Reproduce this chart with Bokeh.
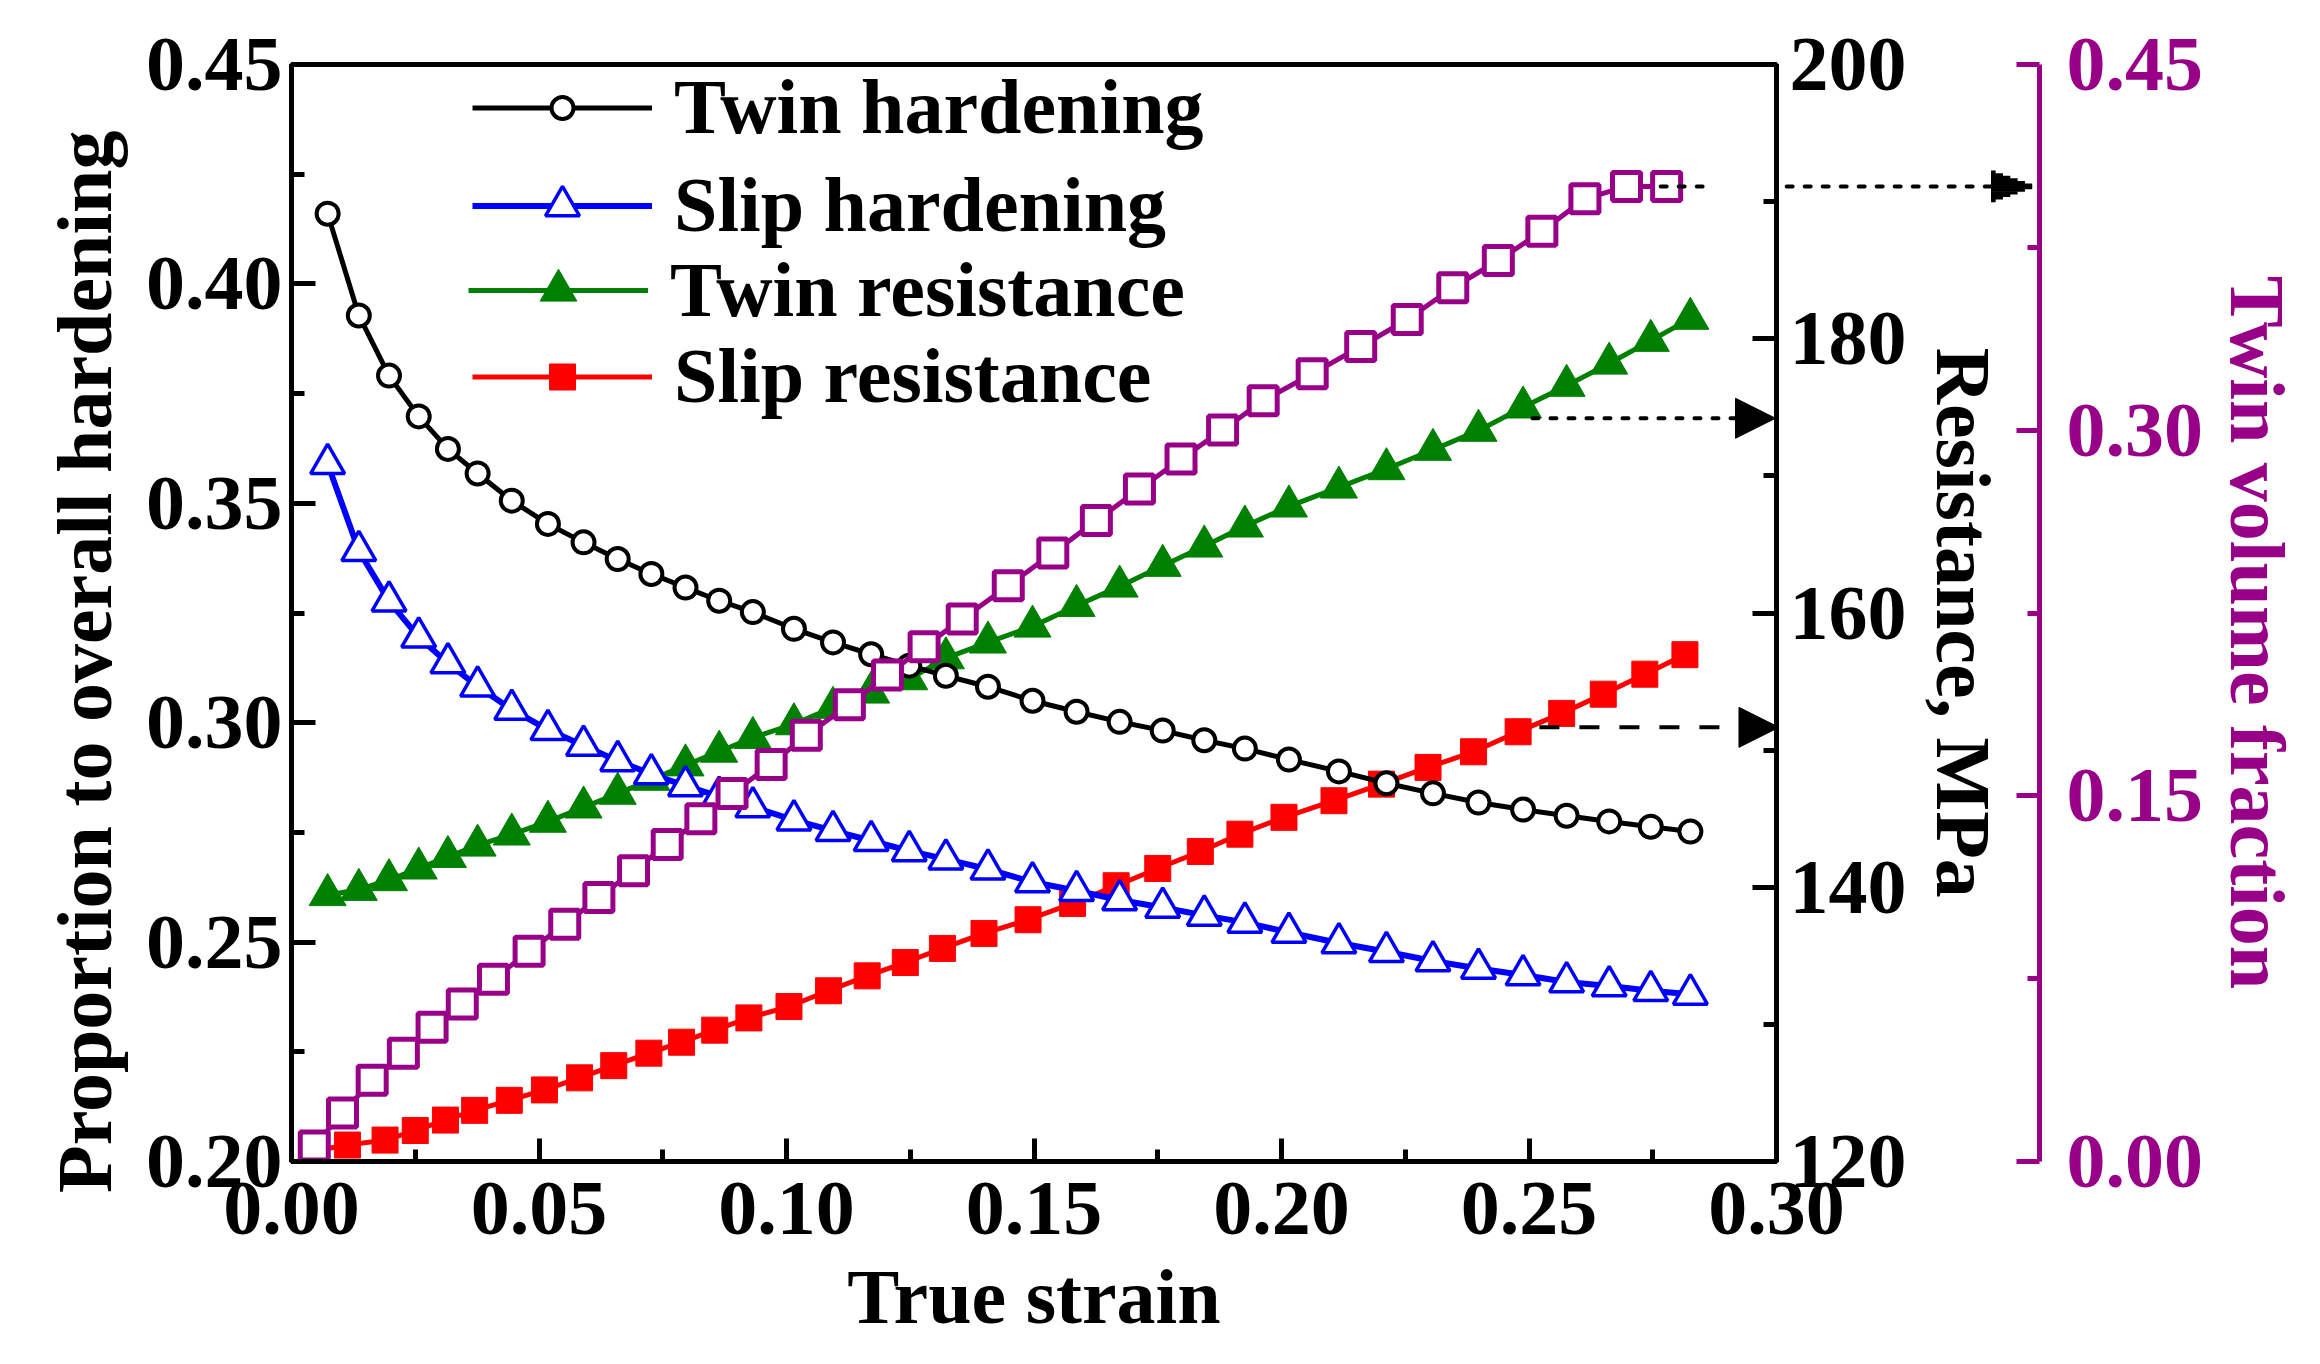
from bokeh.plotting import figure
from bokeh.models import (Range1d, LinearAxis, FixedTicker, NumeralTickFormatter,
                          Legend, LegendItem, Arrow, NormalHead)
from bokeh.embed import file_html
from bokeh.resources import INLINE

# ---------------- data ----------------
strain = [0.0073, 0.0136, 0.0197, 0.0257, 0.0316, 0.0376, 0.0445, 0.0518, 0.0590,
          0.0659, 0.0727, 0.0796, 0.0864, 0.0932, 0.1015, 0.1094, 0.1171, 0.1248,
          0.1322, 0.1407, 0.1497, 0.1586, 0.1673, 0.1760, 0.1844, 0.1926, 0.2015,
          0.2116, 0.2212, 0.2306, 0.2398, 0.2488, 0.2576, 0.2662, 0.2746, 0.2826]
twin_hardening = [0.4160, 0.3928, 0.3791, 0.3698, 0.3624, 0.3568, 0.3506, 0.3453, 0.3411,
                  0.3373, 0.3339, 0.3308, 0.3278, 0.3252, 0.3214, 0.3183, 0.3156, 0.3130,
                  0.3107, 0.3082, 0.3050, 0.3025, 0.3002, 0.2982, 0.2960, 0.2941, 0.2916,
                  0.2889, 0.2862, 0.2839, 0.2818, 0.2802, 0.2788, 0.2775, 0.2763, 0.2752]
slip_hardening = [0.3590, 0.3392, 0.3277, 0.3195, 0.3136, 0.3083, 0.3030, 0.2984, 0.2948,
                  0.2913, 0.2883, 0.2856, 0.2832, 0.2808, 0.2778, 0.2754, 0.2731, 0.2708,
                  0.2689, 0.2666, 0.2637, 0.2617, 0.2596, 0.2579, 0.2561, 0.2545, 0.2522,
                  0.2498, 0.2478, 0.2457, 0.2440, 0.2425, 0.2409, 0.2400, 0.2389, 0.2381]
twin_resistance = [139.44, 139.82, 140.53, 141.38, 142.22, 143.05, 143.86, 144.79, 145.83,
                   146.83, 147.85, 148.90, 149.90, 150.90, 151.90, 153.10, 154.21, 155.18,
                   156.71, 157.86, 159.02, 160.53, 161.94, 163.45, 164.86, 166.32, 167.78,
                   169.16, 170.50, 171.91, 173.30, 175.00, 176.58, 178.20, 179.86, 181.47]
strain_slip_res = [0.0050, 0.0113, 0.0189, 0.0250, 0.0311, 0.0370, 0.0440, 0.0511, 0.0582,
                   0.0651, 0.0722, 0.0788, 0.0855, 0.0924, 0.1005, 0.1085, 0.1163, 0.1240,
                   0.1315, 0.1399, 0.1488, 0.1578, 0.1666, 0.1750, 0.1836, 0.1916, 0.2005,
                   0.2106, 0.2202, 0.2296, 0.2388, 0.2478, 0.2566, 0.2650, 0.2734, 0.2815]
slip_resistance = [120.80, 121.20, 121.56, 122.26, 123.02, 123.73, 124.46, 125.22, 126.10,
                   126.99, 127.90, 128.70, 129.58, 130.47, 131.30, 132.45, 133.54, 134.51,
                   135.54, 136.63, 137.63, 138.82, 140.11, 141.37, 142.61, 143.87, 145.10,
                   146.31, 147.52, 148.74, 149.88, 151.34, 152.68, 154.08, 155.54, 156.96]
strain_tvf = [0.0046, 0.0103, 0.0163, 0.0226, 0.0284, 0.0345, 0.0408, 0.0480, 0.0552,
              0.0621, 0.0691, 0.0759, 0.0827, 0.0890, 0.0969, 0.1040, 0.1127, 0.1204,
              0.1278, 0.1355, 0.1448, 0.1538, 0.1626, 0.1713, 0.1797, 0.1881, 0.1963,
              0.2062, 0.2160, 0.2254, 0.2346, 0.2438, 0.2526, 0.2613, 0.2697, 0.2778]
twin_volume_fraction = [0.0064, 0.0199, 0.0333, 0.0444, 0.0551, 0.0646, 0.0748, 0.0862, 0.0973,
                        0.1083, 0.1193, 0.1300, 0.1406, 0.1510, 0.1629, 0.1749, 0.1874, 0.1996,
                        0.2112, 0.2225, 0.2362, 0.2496, 0.2629, 0.2759, 0.2882, 0.3001, 0.3121,
                        0.3231, 0.3343, 0.3454, 0.3584, 0.3696, 0.3816, 0.3949, 0.4000, 0.4000]

x_ticks = [0.00, 0.05, 0.10, 0.15, 0.20, 0.25, 0.30]
x_minor = [0.025, 0.075, 0.125, 0.175, 0.225, 0.275]
left_ticks = [0.20, 0.25, 0.30, 0.35, 0.40, 0.45]
left_minor = [0.225, 0.275, 0.325, 0.375, 0.425]
res_ticks = [120, 140, 160, 180, 200]
res_minor = [130, 150, 170, 190]
tvf_ticks = [0.00, 0.15, 0.30, 0.45]
tvf_minor = [0.075, 0.225, 0.375]

# arrows: (x_start, x_end, y)
arrow_tvf = (0.2766, 0.3522, 0.4000)
arrow_twin_res = (0.2507, 0.2998, 174.2)
arrow_slip_res = (0.2521, 0.3005, 151.66)

# ---------------- style ----------------
FONT = "Liberation Serif"
FS = "78px"
PURPLE = "#990088"
NB = "\u00a0"
W, H = 2304, 1348
BL, BR, BT, BB = 291, 524, 64, 187

p = figure(width=W, height=H, x_range=Range1d(0, 0.30), y_range=Range1d(0.20, 0.45),
           output_backend="svg", toolbar_location=None,
           min_border_left=BL, min_border_right=BR, min_border_top=BT, min_border_bottom=BB)
p.extra_y_ranges = {"res": Range1d(120, 200), "tvf": Range1d(0, 0.45)}
p.xgrid.visible = False
p.ygrid.visible = False
p.outline_line_color = "black"
p.outline_line_width = 5
p.background_fill_color = "white"
p.border_fill_color = "white"


def style_axis(ax, color="black", tick_in=24, minor_in=13, standoff=9, label_standoff=20):
    ax.axis_line_color = color
    ax.axis_line_width = 5
    ax.major_tick_line_color = color
    ax.minor_tick_line_color = color
    ax.major_tick_line_width = 5
    ax.minor_tick_line_width = 5
    ax.major_tick_in = tick_in
    ax.major_tick_out = 0
    ax.minor_tick_in = minor_in
    ax.minor_tick_out = 0
    ax.major_label_text_font = FONT
    ax.major_label_text_font_style = "bold"
    ax.major_label_text_font_size = FS
    ax.major_label_text_color = color
    ax.major_label_standoff = standoff
    ax.axis_label_text_font = FONT
    ax.axis_label_text_font_style = "bold"
    ax.axis_label_text_font_size = FS
    ax.axis_label_text_color = color
    ax.axis_label_standoff = label_standoff


xa = p.xaxis[0]
xa.ticker = FixedTicker(ticks=x_ticks, minor_ticks=x_minor)
xa.formatter = NumeralTickFormatter(format="0.00")
xa.axis_label = "True strain"
style_axis(xa, tick_in=23, minor_in=12, standoff=21, label_standoff=16)

ya = p.yaxis[0]
ya.ticker = FixedTicker(ticks=left_ticks, minor_ticks=left_minor)
ya.formatter = NumeralTickFormatter(format="0.00")
ya.axis_label = "Proportion to overall hardening" + NB * 5
style_axis(ya, standoff=9, label_standoff=15)

ax_res = LinearAxis(y_range_name="res", axis_label=NB + "Resistance, MPa",
                    ticker=FixedTicker(ticks=res_ticks, minor_ticks=res_minor))
style_axis(ax_res, standoff=13, label_standoff=10)
p.add_layout(ax_res, "right")

spacer = LinearAxis(y_range_name="res", ticker=FixedTicker(ticks=[], minor_ticks=[]),
                    axis_line_color=None, major_tick_line_color=None, minor_tick_line_color=None,
                    major_tick_out=0, major_tick_in=0, minor_tick_out=0, major_label_standoff=0,
                    axis_label=NB, axis_label_standoff=25, axis_label_text_font_size="2px",
                    axis_label_text_color="white")
p.add_layout(spacer, "right")

ax_tvf = LinearAxis(y_range_name="tvf", axis_label=NB * 2 + "Twin volume fraction",
                    ticker=FixedTicker(ticks=tvf_ticks, minor_ticks=tvf_minor),
                    formatter=NumeralTickFormatter(format="0.00"))
style_axis(ax_tvf, color=PURPLE, tick_in=23, minor_in=12, standoff=27, label_standoff=8)
p.add_layout(ax_tvf, "right")

# ---------------- series (draw order: red, green, black, blue, purple) ----------------
l_sr = p.line(strain_slip_res, slip_resistance, y_range_name="res", line_color="red", line_width=5)
s_sr = p.scatter(strain_slip_res, slip_resistance, y_range_name="res", marker="square", size=26,
                 fill_color="red", line_color="red", line_width=1)
l_tr = p.line(strain, twin_resistance, y_range_name="res", line_color="green", line_width=5)
s_tr = p.scatter(strain, twin_resistance, y_range_name="res", marker="triangle", size=37,
                 fill_color="green", line_color="green", line_width=1)
l_th = p.line(strain, twin_hardening, line_color="black", line_width=5)
s_th = p.scatter(strain, twin_hardening, marker="circle", size=22, fill_color="white",
                 line_color="black", line_width=4)
l_sh = p.line(strain, slip_hardening, line_color="blue", line_width=6)
s_sh = p.scatter(strain, slip_hardening, marker="triangle", size=34, fill_color="white",
                 line_color="blue", line_width=3.5)
l_tv = p.line(strain_tvf, twin_volume_fraction, y_range_name="tvf", line_color=PURPLE, line_width=5)
s_tv = p.scatter(strain_tvf, twin_volume_fraction, y_range_name="tvf", marker="square", size=28,
                 fill_color="white", line_color=PURPLE, line_width=5)

# ---------------- arrows ----------------
p.add_layout(Arrow(x_start=arrow_twin_res[0], y_start=arrow_twin_res[2], x_end=arrow_twin_res[1],
                   y_end=arrow_twin_res[2], y_range_name="res", line_color="black", line_width=4,
                   line_dash="6 12", line_cap="round",
                   end=NormalHead(size=40, fill_color="black", line_color="black", line_width=1)))
p.add_layout(Arrow(x_start=arrow_slip_res[0], y_start=arrow_slip_res[2], x_end=arrow_slip_res[1],
                   y_end=arrow_slip_res[2], y_range_name="res", line_color="black", line_width=4,
                   line_dash="20 20", line_cap="butt",
                   end=NormalHead(size=40, fill_color="black", line_color="black", line_width=1)))
# arrow to the outer (purple) axis, which lies outside the plot frame:
# the shaft is kept visible up to the axis by a long transparent head ...
p.add_layout(Arrow(x_start=arrow_tvf[0], y_start=arrow_tvf[2], x_end=arrow_tvf[1],
                   y_end=arrow_tvf[2], y_range_name="tvf", line_color="black", line_width=4,
                   line_dash="6 12", line_cap="round",
                   end=NormalHead(size=330, fill_alpha=0, line_alpha=0)))
# ... and its solid head is built from thin strokes that start at the head's base and
# get shorter away from the centre line, so that only the centre one reaches the tip
px_per_x = (W - BL - BR) / 0.30
px_per_tvf = (H - BT - BB) / 0.45
HEAD_LEN, HEAD_WID, NSTRIP = 44.0, 31.0, 12
strip_h = HEAD_WID / NSTRIP
x_base = arrow_tvf[1] - HEAD_LEN / px_per_x
for k in range(NSTRIP):
    off = -HEAD_WID / 2 + strip_h * (k + 0.5)                 # px from the shaft centre line
    length = HEAD_LEN * (1 - abs(off) / (HEAD_WID / 2)) + 1    # px
    yk = arrow_tvf[2] + off / px_per_tvf
    p.add_layout(Arrow(x_start=x_base, y_start=yk, x_end=x_base + length / px_per_x,
                       y_end=yk, y_range_name="tvf", line_color="black",
                       line_width=strip_h + 0.6, line_cap="butt",
                       end=NormalHead(size=HEAD_LEN + 6, fill_alpha=0, line_alpha=0)))

# ---------------- legends ----------------
entries = [("Twin hardening", [l_th, s_th], 181, 999, 55),
           ("Slip hardening", [l_sh, s_sh], 181, 901, 85),
           ("Twin resistance", [l_tr, s_tr], 177, 816, 92),
           ("Slip resistance", [l_sr, s_sr], 181, 730, 65)]
for label, rs, lx, ly, gh in entries:
    lg = Legend(items=[LegendItem(label=label, renderers=rs)], location=(lx, ly),
                label_text_font=FONT, label_text_font_style="bold", label_text_font_size=FS,
                label_text_color="black", label_height=110,
                glyph_width=180, glyph_height=gh, label_standoff=22, padding=0, margin=0,
                spacing=0, border_line_color=None, background_fill_alpha=0)
    p.add_layout(lg, "center")

open("out.html", "w").write(file_html(p, INLINE))
